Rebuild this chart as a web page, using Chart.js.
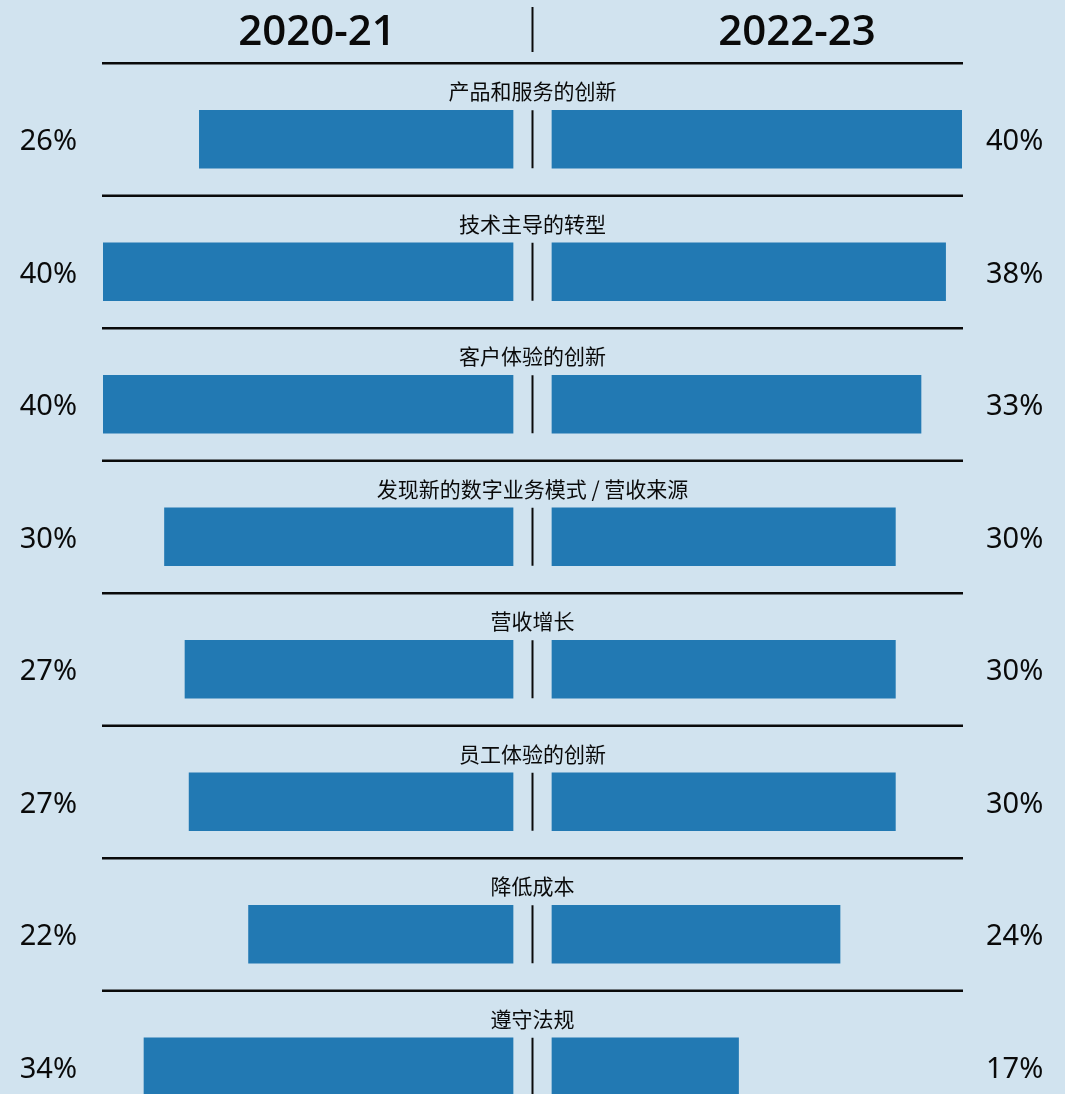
<!DOCTYPE html>
<html>
<head>
<meta charset="utf-8">
<script src="https://cdn.jsdelivr.net/npm/chart.js@4.4.0/dist/chart.umd.min.js"></script>
<style>
  html, body { margin: 0; padding: 0; background: #d1e3ef; overflow: hidden; }
  #wrap { width: 1065px; height: 1140px; }
</style>
</head>
<body>
<div id="wrap"><canvas id="c" width="1065" height="1140"></canvas></div>
<script>
// 分类
var categories = ['产品和服务的创新', '技术主导的转型', '客户体验的创新', '发现新的数字业务模式 / 营收来源',
  '营收增长', '员工体验的创新', '降低成本', '遵守法规'];
// 柱长（按图中长度读取）
var barsLeft = [30.6, 40, 40, 34, 32, 31.6, 25.8, 36];
var barsRight = [40, 38.4, 36, 33.5, 33.5, 33.5, 28.1, 18.2];
// 标注的百分比
var labelsLeft = [26, 40, 40, 30, 27, 27, 22, 34];
var labelsRight = [40, 38, 33, 30, 30, 30, 24, 17];
var periods = ['2020-21', '2022-23'];

var GAP = 1.9;      // half gap around the centre line, in axis units
var AXIS_MAX = 41.9;
var barColor = '#2279b3';
var ink = '#0a0a0a';

var leftData = barsLeft.map(function(v) { return [-GAP - v, -GAP]; });
var rightData = barsRight.map(function(v) { return [GAP, GAP + v]; });

var decorations = {
  id: 'decorations',
  afterDatasetsDraw: function(chart) {
    var ctx = chart.ctx;
    var x = chart.scales.x;
    var y = chart.scales.y;
    var cx = x.getPixelForValue(0);
    var left = x.left, right = x.right;

    ctx.save();
    // header
    ctx.fillStyle = ink;
    ctx.font = '600 42px "Open Sans", "Noto Sans", sans-serif';
    ctx.textAlign = 'center';
    ctx.textBaseline = 'alphabetic';
    ctx.fillText(periods[0], 317, 45);
    ctx.fillText(periods[1], 797, 45);
    ctx.strokeStyle = ink;
    ctx.lineWidth = 2;
    ctx.beginPath();
    ctx.moveTo(cx, 7);
    ctx.lineTo(cx, 52);
    ctx.stroke();

    categories.forEach(function(cat, i) {
      var cy = y.getPixelForValue(i);
      // separator
      ctx.lineWidth = 2.5;
      ctx.beginPath();
      ctx.moveTo(left - 1, cy - 76);
      ctx.lineTo(right + 1, cy - 76);
      ctx.stroke();
      // centre tick
      ctx.lineWidth = 2;
      ctx.beginPath();
      ctx.moveTo(cx, cy - 29);
      ctx.lineTo(cx, cy + 29);
      ctx.stroke();
      // category label
      ctx.font = '21px "Noto Sans CJK SC", sans-serif';
      ctx.textAlign = 'center';
      ctx.textBaseline = 'middle';
      ctx.fillText(cat, cx, cy - 48);
      // percentages
      ctx.font = '29px "Noto Sans", sans-serif';
      ctx.textBaseline = 'alphabetic';
      ctx.textAlign = 'right';
      ctx.fillText(labelsLeft[i] + '%', 77, cy + 11);
      ctx.textAlign = 'left';
      ctx.fillText(labelsRight[i] + '%', 986, cy + 11);
    });
    ctx.restore();
  }
};

new Chart(document.getElementById('c'), {
  type: 'bar',
  data: {
    labels: categories,
    datasets: [
      { label: periods[0], data: leftData, backgroundColor: barColor, borderWidth: 0, grouped: false, barThickness: 58 },
      { label: periods[1], data: rightData, backgroundColor: barColor, borderWidth: 0, grouped: false, barThickness: 58 }
    ]
  },
  options: {
    indexAxis: 'y',
    responsive: false,
    animation: false,
    devicePixelRatio: 1,
    layout: { padding: { left: 103, right: 103, top: 73, bottom: 7 } },
    plugins: { legend: { display: false }, tooltip: { enabled: false }, title: { display: false } },
    scales: {
      x: { type: 'linear', min: -AXIS_MAX, max: AXIS_MAX, display: false },
      y: { type: 'category', display: false, offset: true }
    }
  },
  plugins: [decorations]
});
</script>
</body>
</html>
